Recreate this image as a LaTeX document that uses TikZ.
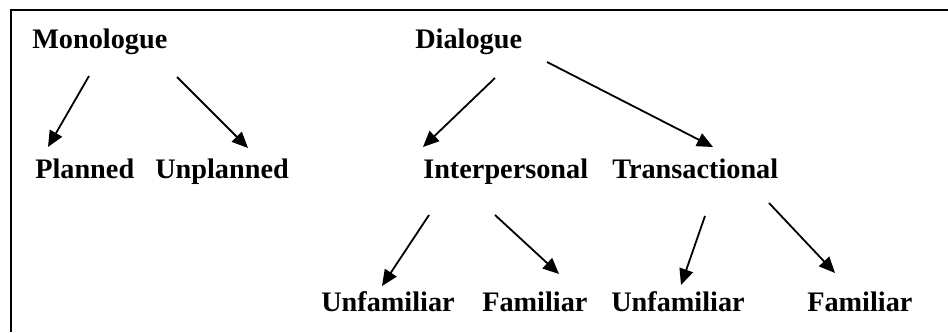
\documentclass[tikz,border=0pt]{standalone}
\usepackage{fontspec}
\setmainfont{Liberation Serif}
\usetikzlibrary{arrows.meta}
\begin{document}
\begin{tikzpicture}[x=0.75pt,y=-0.75pt,
  lbl/.style={anchor=base west,inner sep=0pt,font=\fontsize{21.2}{25}\selectfont\bfseries},
  arr/.style={line width=1.35pt,-{Triangle[length=12pt,width=10.5pt]}},
  frame/.style={line width=2.2pt}]
\useasboundingbox (0,0) rectangle (948,332);
\draw[frame] (948,10) -- (11,10) -- (11,332);
\node[lbl] (mono) at (32,48) {Monologue};
\node[lbl] (plan) at (35,178) {Planned};
\node[lbl] (unpl) at (155,178) {Unplanned};
\node[lbl] (dia) at (415,48) {Dialogue};
\node[lbl] (inter) at (423,178) {Interpersonal};
\node[lbl] (trans) at (612,178) {Transactional};
\node[lbl] (unfa) at (321,311) {Unfamiliar};
\node[lbl] (fama) at (482,311) {Familiar};
\node[lbl] (unfb) at (611,311) {Unfamiliar};
\node[lbl] (famb) at (807,311) {Familiar};
\draw[arr] ([shift={(57,28)}]mono.base west) -- ([shift={(13,-31)}]plan.base west);
\draw[arr] ([shift={(145,29)}]mono.base west) -- ([shift={(93,-30)}]unpl.base west);
\draw[arr] ([shift={(80,30)}]dia.base west) -- ([shift={(0,-31)}]inter.base west);
\draw[arr] ([shift={(132,14)}]dia.base west) -- ([shift={(101,-31)}]trans.base west);
\draw[arr] ([shift={(6,37)}]inter.base west) -- ([shift={(61,-25)}]unfa.base west);
\draw[arr] ([shift={(72,37)}]inter.base west) -- ([shift={(77,-37)}]fama.base west);
\draw[arr] ([shift={(93,38)}]trans.base west) -- ([shift={(70,-26)}]unfb.base west);
\draw[arr] ([shift={(157,25)}]trans.base west) -- ([shift={(28,-38)}]famb.base west);
\end{tikzpicture}
\end{document}
